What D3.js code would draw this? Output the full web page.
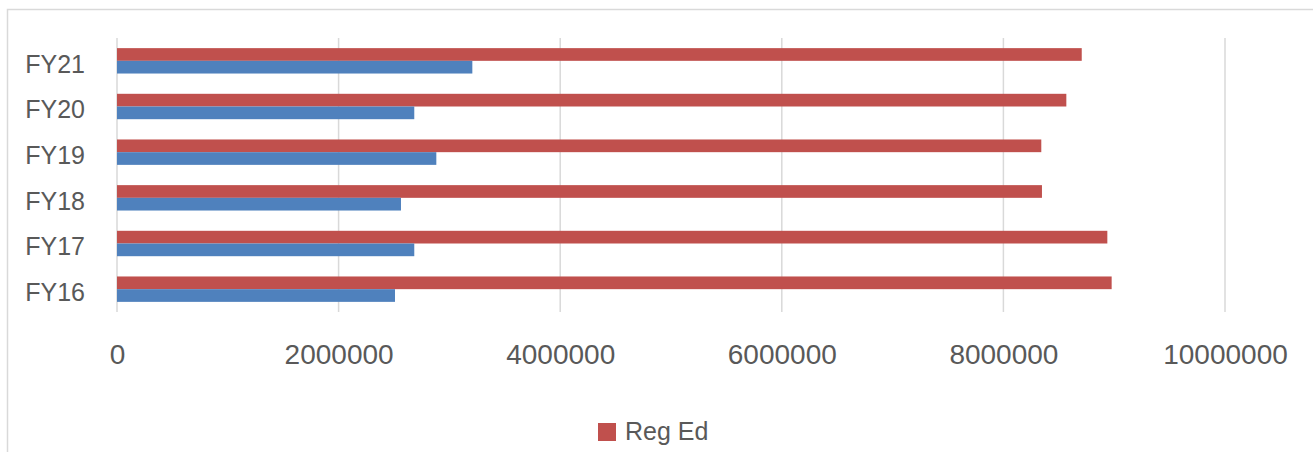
<!DOCTYPE html>
<html><head><meta charset="utf-8">
<script src="https://cdn.jsdelivr.net/npm/d3@7/dist/d3.min.js"></script>
<style>body{margin:0;background:#fff}svg{display:block}</style>
</head><body>
<script>
const categories = ["FY16","FY17","FY18","FY19","FY20","FY21"];
const regEd = [8977000, 8938000, 8348000, 8342000, 8568000, 8707000];
const other = [2509000, 2683000, 2563000, 2882000, 2683000, 3207000];
const xTicks = [0, 2000000, 4000000, 6000000, 8000000, 10000000];
const legendLabels = ["Reg Ed"];

const W = 1313, H = 452;
const svg = d3.select("body").append("svg").attr("width", W).attr("height", H);
const font = "'Liberation Sans', Arial, sans-serif";
const textColor = "#595959";

svg.append("rect").attr("x", 7.5).attr("y", 9.5).attr("width", W + 20).attr("height", H + 20)
  .attr("fill", "#fff").attr("stroke", "#d9d9d9").attr("stroke-width", 1.5);

const x = d3.scaleLinear().domain([0, 10000000]).range([117, 1225]);
const y = d3.scaleBand().domain(categories.slice().reverse()).range([38, 312]).paddingInner(0.444).paddingOuter(0.222);
const inner = d3.scaleBand().domain(["reg","other"]).range([0, y.bandwidth()]);

// gridlines
svg.append("g").selectAll("line").data(xTicks).join("line")
  .attr("x1", d => x(d)).attr("x2", d => x(d)).attr("y1", 38).attr("y2", 312)
  .attr("stroke", "#d9d9d9").attr("stroke-width", 1.5);

const rows = categories.map((c, i) => ({c, reg: regEd[i], other: other[i]}));
const g = svg.append("g");
g.selectAll("rect.reg").data(rows).join("rect").attr("class","reg")
  .attr("x", x(0)).attr("y", d => y(d.c) + inner("reg"))
  .attr("width", d => x(d.reg) - x(0)).attr("height", inner.bandwidth())
  .attr("fill", "#C0504D");
g.selectAll("rect.other").data(rows).join("rect").attr("class","other")
  .attr("x", x(0)).attr("y", d => y(d.c) + inner("other"))
  .attr("width", d => x(d.other) - x(0)).attr("height", inner.bandwidth())
  .attr("fill", "#4F81BD");

// y labels
const yAxis = d3.axisLeft(y).tickSize(0).tickPadding(0);
const ya = svg.append("g").attr("transform", "translate(85,0)").call(yAxis);
ya.select(".domain").remove();
ya.selectAll("text").attr("font-family", font).attr("font-size", 25).attr("fill", textColor)
  .attr("dy", "0.35em").attr("y", 3);

// x labels
const xAxis = d3.axisBottom(x).tickValues(xTicks).tickFormat(d3.format("d")).tickSize(0).tickPadding(0);
const xa = svg.append("g").attr("transform", "translate(0,344)").call(xAxis);
xa.select(".domain").remove();
xa.selectAll("text").attr("font-family", font).attr("font-size", 28).attr("fill", textColor)
  .attr("dy", "0.71em");

// legend
const lg = svg.append("g");
legendLabels.forEach((l, i) => {
  lg.append("rect").attr("x", 598).attr("y", 423).attr("width", 18).attr("height", 18).attr("fill", "#C0504D");
  lg.append("text").attr("x", 625).attr("y", 440).attr("font-family", font).attr("font-size", 25)
    .attr("fill", textColor).text(l);
});
</script>
</body></html>
